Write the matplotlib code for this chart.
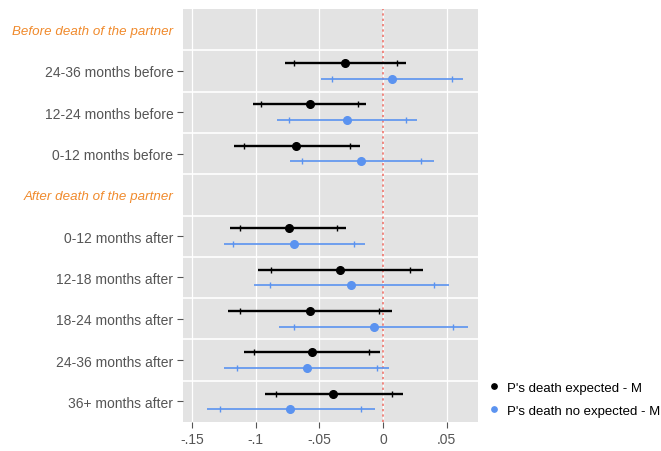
import numpy as np
import matplotlib.pyplot as plt

plt.rcParams['font.family'] = ['Liberation Sans', 'DejaVu Sans']

# rows from top to bottom (None = section header)
row_labels = ['Before death of the partner', '24-36 months before', '12-24 months before',
              '0-12 months before', 'After death of the partner', '0-12 months after',
              '12-18 months after', '18-24 months after', '24-36 months after', '36+ months after']
header_rows = [0, 4]
data_rows = [1, 2, 3, 5, 6, 7, 8, 9]

legend = ["P's death expected - M", "P's death no expected - M"]

# expected (black): point, inner interval, outer interval
exp_pt = [-0.030, -0.057, -0.068, -0.074, -0.034, -0.057, -0.056, -0.039]
exp_in_lo = [-0.070, -0.096, -0.109, -0.112, -0.088, -0.112, -0.101, -0.084]
exp_in_hi = [0.011, -0.020, -0.026, -0.036, 0.021, -0.003, -0.011, 0.007]
exp_lo = [-0.077, -0.102, -0.117, -0.120, -0.098, -0.122, -0.109, -0.093]
exp_hi = [0.018, -0.013, -0.018, -0.029, 0.031, 0.007, -0.002, 0.016]

# not expected (blue)
nexp_pt = [0.007, -0.028, -0.017, -0.070, -0.025, -0.007, -0.060, -0.073]
nexp_in_lo = [-0.040, -0.074, -0.064, -0.118, -0.089, -0.070, -0.115, -0.128]
nexp_in_hi = [0.054, 0.018, 0.030, -0.023, 0.040, 0.055, -0.005, -0.017]
nexp_lo = [-0.049, -0.083, -0.073, -0.125, -0.101, -0.082, -0.125, -0.138]
nexp_hi = [0.063, 0.027, 0.040, -0.014, 0.052, 0.067, 0.005, -0.006]

xticks = [-0.15, -0.1, -0.05, 0, 0.05]
xticklabels = ['-.15', '-.1', '-.05', '0', '.05']

fig = plt.figure(figsize=(6.61, 4.52), dpi=100)
ax = fig.add_axes([0.277, 0.064, 0.446, 0.914])
ax.set_facecolor('#e3e3e3')

off = 0.19
series = [
    (exp_pt, exp_in_lo, exp_in_hi, exp_lo, exp_hi, 'black', -off, 1.7),
    (nexp_pt, nexp_in_lo, nexp_in_hi, nexp_lo, nexp_hi, '#5b93f0', off, 1.2),
]
for k, (pt, ilo, ihi, lo, hi, col, dy, lw) in enumerate(series):
    y = np.array(data_rows) + dy
    ax.hlines(y, lo, hi, color=col, lw=lw, zorder=3)
    ax.plot(ilo, y, '|', color=col, ms=5, mew=1.0, zorder=3)
    ax.plot(ihi, y, '|', color=col, ms=5, mew=1.0, zorder=3)
    ax.plot(pt, y, 'o', color=col, ms=5.5, zorder=4, label=legend[k])

ax.axvline(0, color='#ee6b62', ls=(0, (1.5, 2)), lw=1.1, zorder=2)

# grid lines between rows and at x ticks
for b in np.arange(0.5, len(row_labels) - 0.5, 1):
    ax.axhline(b, color='white', lw=1.2, zorder=1)
for xt in xticks:
    ax.axvline(xt, color='white', lw=0.9, zorder=1)

ax.set_xlim(-0.157, 0.0745)
ax.set_ylim(len(row_labels) - 0.5, -0.5)
ax.set_xticks(xticks)
ax.set_xticklabels(xticklabels, fontsize=10, color='#555555')
ax.set_yticks(range(len(row_labels)))
ax.set_yticklabels(row_labels, fontsize=10, color='#555555')
ax.tick_params(axis='both', length=4, color='#555555', width=0.8)
ax.tick_params(axis='y', pad=3)

for i in header_rows:
    lab = ax.get_yticklabels()[i]
    lab.set_color('#f08a2c')
    lab.set_style('italic')
    lab.set_fontsize(9.6)
    ax.yaxis.get_major_ticks()[i].tick1line.set_visible(False)

for s in ax.spines.values():
    s.set_visible(False)

ax.legend(loc='lower left', bbox_to_anchor=(1.0, -0.01), frameon=False, fontsize=9.5,
          handletextpad=0.5, markerscale=0.7, handlelength=1.0, borderaxespad=0.3,
          labelspacing=0.85)

fig.savefig('out.png', dpi=100)
